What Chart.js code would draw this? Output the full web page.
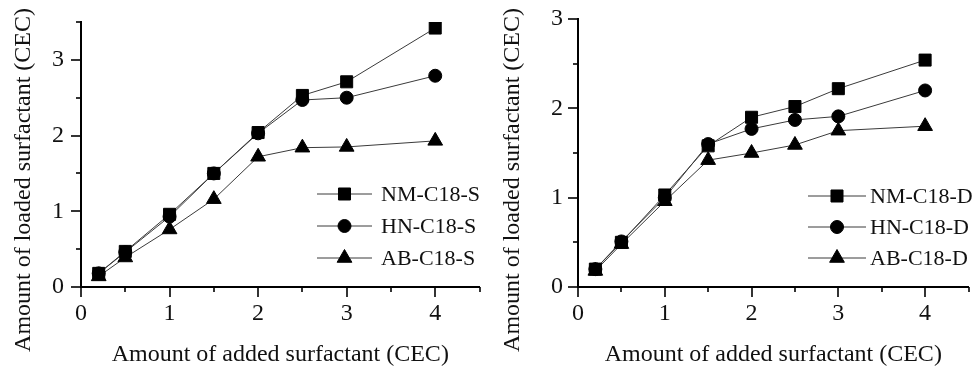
<!DOCTYPE html>
<html>
<head>
<meta charset="utf-8">
<script src="https://cdn.jsdelivr.net/npm/chart.js@4.4.1/dist/chart.umd.min.js"></script>
<style>
    html, body { margin: 0; padding: 0; background: #fff; }
    #wrap { display: flex; width: 978px; height: 375px; }
    canvas { display: block; }
</style>
</head>
<body>
<div id="wrap">
    <canvas id="chart-s" width="489" height="375"></canvas>
    <canvas id="chart-d" width="489" height="375"></canvas>
</div>
<script>
// x values shared by every series (CEC)
const addedCEC = [0.2, 0.5, 1, 1.5, 2, 2.5, 3, 4];

// single-chain (S) samples
const nmS = [0.18, 0.47, 0.96, 1.50, 2.04, 2.53, 2.71, 3.42];
const hnS = [0.18, 0.46, 0.93, 1.50, 2.03, 2.47, 2.50, 2.79];
const abS = [0.14, 0.39, 0.76, 1.16, 1.72, 1.84, 1.85, 1.93];

// double-chain (D) samples
const nmD = [0.20, 0.50, 1.03, 1.58, 1.90, 2.02, 2.22, 2.54];
const hnD = [0.20, 0.51, 1.00, 1.60, 1.77, 1.87, 1.91, 2.20];
const abD = [0.18, 0.48, 0.96, 1.42, 1.50, 1.59, 1.75, 1.80];

const labelsS = ['NM-C18-S', 'HN-C18-S', 'AB-C18-S'];
const labelsD = ['NM-C18-D', 'HN-C18-D', 'AB-C18-D'];
const MARKERS = ['rect', 'circle', 'triangle'];
const MARKER_SIZE = { rect: 8.5, circle: 6.5, triangle: 8.5 };

const X_TITLE = 'Amount of added surfactant (CEC)';
const Y_TITLE = 'Amount of loaded surfactant (CEC)';
const FONT = "'Liberation Serif', 'Times New Roman', serif";

const isMajor = v => Math.abs(v - Math.round(v)) < 1e-6;

// outward ticks, long on integers, short on halves
const tickMarks = {
    id: 'tickMarks',
    afterDraw(chart) {
        const { ctx, chartArea } = chart;
        const xs = chart.scales.x, ys = chart.scales.y;
        ctx.save();
        ctx.strokeStyle = '#000';
        ctx.lineWidth = 1.6;
        xs.ticks.forEach(t => {
            const px = Math.round(xs.getPixelForValue(t.value));
            const len = isMajor(t.value) ? 10 : 5;
            ctx.beginPath();
            ctx.moveTo(px, chartArea.bottom);
            ctx.lineTo(px, chartArea.bottom + len);
            ctx.stroke();
        });
        ys.ticks.forEach(t => {
            const py = Math.round(ys.getPixelForValue(t.value));
            const len = isMajor(t.value) ? 10 : 5;
            ctx.beginPath();
            ctx.moveTo(chartArea.left, py);
            ctx.lineTo(chartArea.left - len, py);
            ctx.stroke();
        });
        ctx.restore();
    }
};

// rotated y title, centred on the whole canvas height like the figure
const yTitle = {
    id: 'yTitle',
    afterDraw(chart, args, opts) {
        const ctx = chart.ctx;
        ctx.save();
        ctx.translate(opts.x, opts.y);
        ctx.rotate(-Math.PI / 2);
        ctx.font = `24px ${FONT}`;
        ctx.fillStyle = '#111';
        ctx.textAlign = 'center';
        ctx.textBaseline = 'middle';
        ctx.fillText(opts.text, 0, 0);
        ctx.restore();
    }
};

// origin style legend: line - marker - line, then label
const lineLegend = {
    id: 'lineLegend',
    afterDraw(chart, args, opts) {
        const ctx = chart.ctx;
        ctx.save();
        chart.data.datasets.forEach((ds, i) => {
            const y = opts.y + i * opts.rowGap;
            ctx.strokeStyle = ds.borderColor;
            ctx.lineWidth = ds.borderWidth;
            ctx.beginPath();
            ctx.moveTo(opts.x, y);
            ctx.lineTo(opts.x + opts.lineLen, y);
            ctx.stroke();
            ctx.fillStyle = '#000';
            ctx.strokeStyle = '#000';
            Chart.helpers.drawPoint(ctx, {
                pointStyle: ds.pointStyle,
                radius: ds.pointRadius,
                rotation: 0,
                borderWidth: 1
            }, opts.x + opts.lineLen / 2, y);
            ctx.font = `22px ${FONT}`;
            ctx.fillStyle = '#111';
            ctx.textAlign = 'left';
            ctx.textBaseline = 'middle';
            ctx.fillText(ds.label, opts.x + opts.lineLen + opts.textGap, y + 1);
        });
        ctx.restore();
    }
};

function makeDatasets(seriesList, labels) {
    return seriesList.map((vals, i) => ({
        label: labels[i],
        data: addedCEC.map((x, k) => ({ x: x, y: vals[k] })),
        borderColor: '#3a3a3a',
        borderWidth: 1,
        backgroundColor: '#000',
        pointBackgroundColor: '#000',
        pointBorderColor: '#000',
        pointBorderWidth: 1,
        pointStyle: MARKERS[i],
        pointRadius: MARKER_SIZE[MARKERS[i]],
        tension: 0
    }));
}

function makeChart(id, datasets, cfg) {
    const ctx = document.getElementById(id).getContext('2d');
    return new Chart(ctx, {
        type: 'line',
        data: { datasets: datasets },
        options: {
            responsive: false,
            animation: false,
            devicePixelRatio: 1,
            layout: { padding: { top: cfg.top, right: cfg.right, left: 0, bottom: 0 } },
            plugins: {
                legend: { display: false },
                tooltip: { enabled: false },
                yTitle: { text: Y_TITLE, x: 24, y: 180 },
                lineLegend: cfg.legend
            },
            scales: {
                x: {
                    type: 'linear',
                    min: 0,
                    max: 4.5,
                    afterFit: s => { s.height = 88; s.paddingLeft = 0; s.paddingRight = 0; },
                    grid: { display: false, drawTicks: false },
                    border: { display: true, color: '#000', width: 2 },
                    ticks: {
                        stepSize: 0.5,
                        autoSkip: false,
                        maxRotation: 0,
                        padding: 12,
                        color: '#111',
                        font: { family: FONT, size: 24 },
                        callback: v => isMajor(v) ? String(Math.round(v)) : ''
                    },
                    title: {
                        display: true,
                        text: X_TITLE,
                        color: '#111',
                        font: { family: FONT, size: 24 },
                        padding: { top: 0, bottom: 6 }
                    }
                },
                y: {
                    min: 0,
                    max: cfg.yMax,
                    afterFit: s => { s.width = cfg.yWidth; s.paddingTop = 0; s.paddingBottom = 0; },
                    grid: { display: false, drawTicks: false },
                    border: { display: true, color: '#000', width: 2 },
                    ticks: {
                        stepSize: 0.5,
                        autoSkip: false,
                        padding: cfg.yLabelPad,
                        color: '#111',
                        font: { family: FONT, size: 24 },
                        callback: v => isMajor(v) ? String(Math.round(v)) : ''
                    }
                }
            }
        },
        plugins: [tickMarks, yTitle, lineLegend]
    });
}

function drawAll() {
    makeChart('chart-s', makeDatasets([nmS, hnS, abS], labelsS), {
        top: 22, right: 9, yMax: 3.5, yWidth: 81, yLabelPad: 17,
        legend: { x: 317, y: 194, rowGap: 32, lineLen: 55, textGap: 9 }
    });

    makeChart('chart-d', makeDatasets([nmD, hnD, abD], labelsD), {
        top: 19, right: 0, yMax: 3, yWidth: 89, yLabelPad: 15,
        legend: { x: 319, y: 196, rowGap: 31, lineLen: 58, textGap: 4 }
    });
}

// canvas text needs the serif face loaded before the first draw
Promise.all([
    document.fonts.load("24px 'Liberation Serif'"),
    document.fonts.load("22px 'Liberation Serif'")
]).then(drawAll, drawAll);
</script>
</body>
</html>
